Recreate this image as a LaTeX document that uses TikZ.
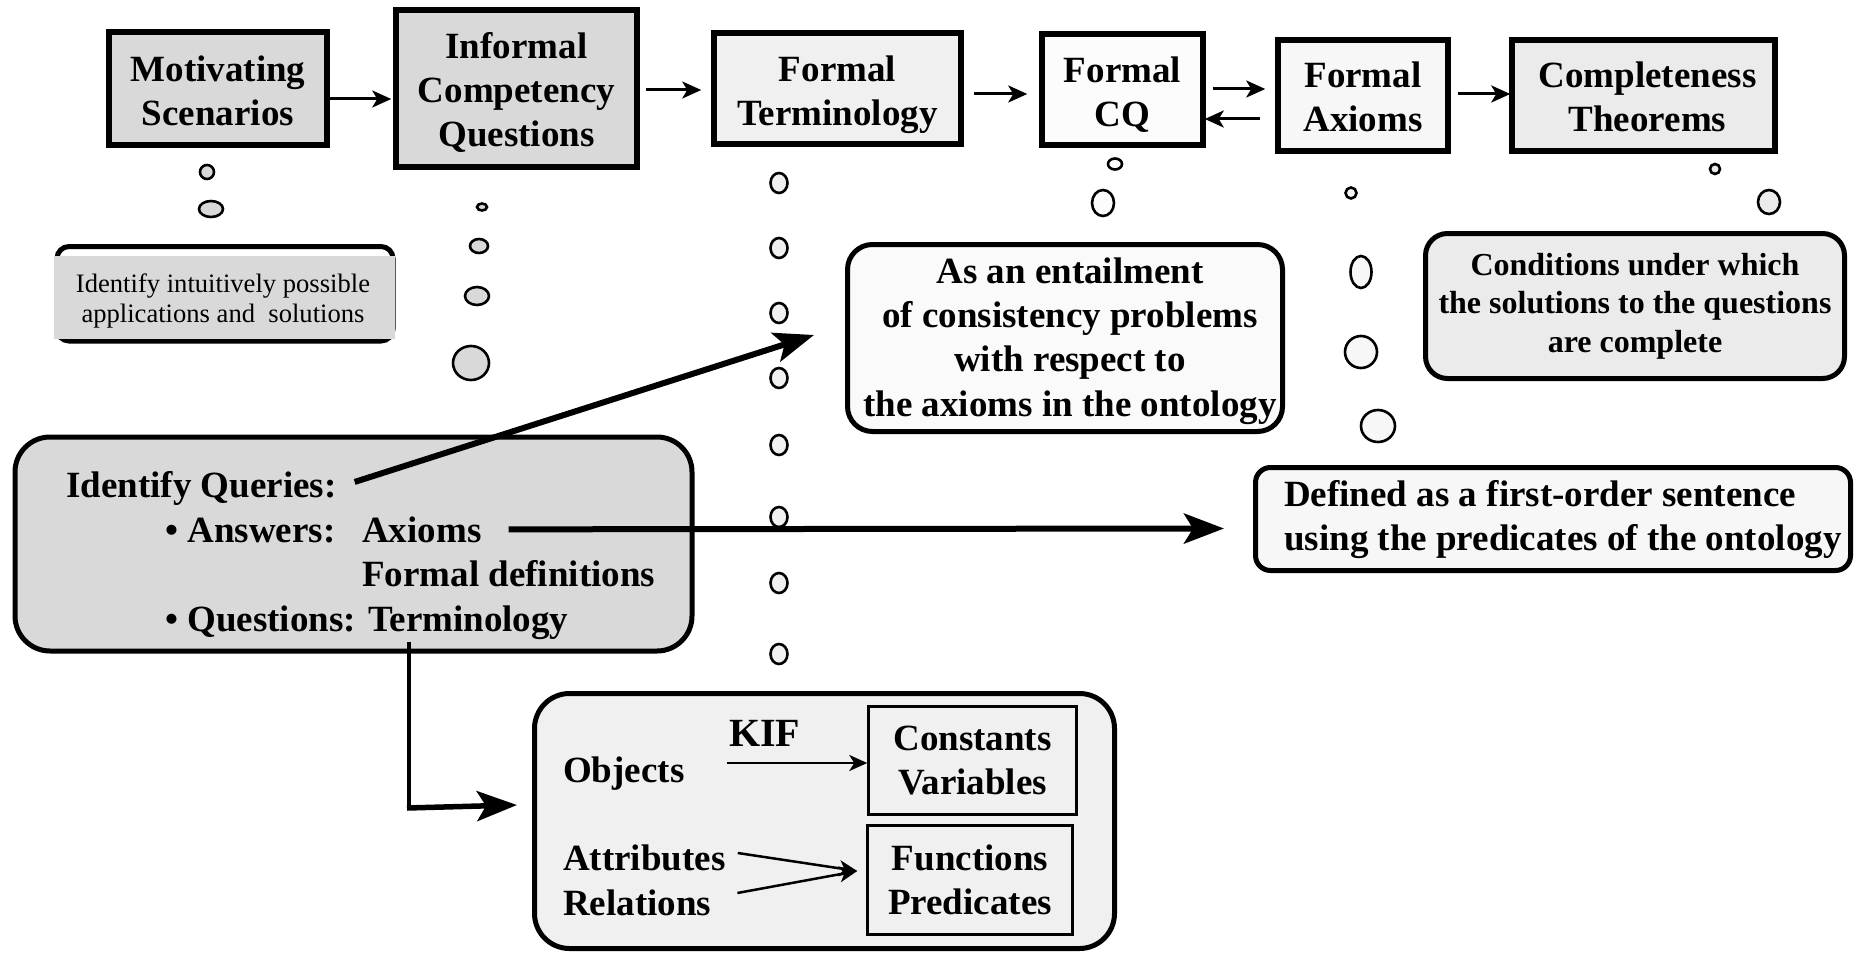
\documentclass[tikz,border=0pt]{standalone}
\usepackage{fontspec}
\setmainfont{Liberation Serif}
\usetikzlibrary{arrows.meta}
\definecolor{gA}{gray}{0.85}
\definecolor{gFT}{gray}{0.94}
\definecolor{gCQ}{gray}{0.99}
\definecolor{gFA}{gray}{0.97}
\definecolor{gCT}{gray}{0.92}
\definecolor{gENT}{gray}{0.98}
\begin{document}
\begin{tikzpicture}[x=1pt,y=-1pt,
  big/.style={font=\bfseries\fontsize{37}{44}\selectfont},
  topbox/.style={draw, line width=5.5pt, rectangle, inner sep=0pt},
  toptext/.style={big, align=center, inner sep=0pt},
  callout/.style={draw, line width=5pt, rectangle, inner sep=0pt},
  inbox/.style={draw, line width=2.5pt, rectangle, inner sep=0pt, align=center, font=\bfseries\fontsize{37}{43.5}\selectfont},
  txt/.style={big, anchor=base west, inner sep=0pt},
  toparrow/.style={line width=3pt, -{Stealth[length=19pt,width=17pt,inset=5pt]}},
  thinarrow/.style={line width=2.5pt, -{Stealth[length=18pt,width=16pt,inset=5pt]}},
  bigarrow/.style={line width=6pt, -{Stealth[length=40pt,width=30pt,inset=9pt]}},
  bubble/.style={draw, line width=2.6pt}
]
\useasboundingbox (0,0) rectangle (1863,955);

% ---------- top row ----------
\node[topbox, fill=gA, minimum width=218pt, minimum height=113pt] (MS) at (218,88.5) {};
\node[topbox, fill=gA, minimum width=241pt, minimum height=157pt] (ICQ) at (516.5,88.5) {};
\node[topbox, fill=gFT, minimum width=247pt, minimum height=111pt] (FT) at (837.5,88.5) {};
\node[topbox, fill=gCQ, minimum width=161pt, minimum height=111pt] (FCQ) at (1122.5,89.5) {};
\node[topbox, fill=gFA, minimum width=170pt, minimum height=111pt] (FA) at (1363,95.5) {};
\node[topbox, fill=gCT, minimum width=263pt, minimum height=111pt] (CT) at (1643.5,95.5) {};

\node[toptext] (MSt) at ([yshift=-2pt]MS.center) {Motivating\\Scenarios};
\node[toptext] (ICQt) at ([yshift=-4pt]ICQ.center) {Informal\\Competency\\Questions};
\node[toptext] (FTt) at ([yshift=-6pt]FT.center) {Formal\\Terminology};
\node[toptext] (FCQt) at ([yshift=-5pt]FCQ.center) {Formal\\CQ};
\node[toptext] (FAt) at ([yshift=-1pt]FA.center) {Formal\\Axioms};
\node[toptext] (CTt) at ([shift={(4,1)}]CT.center) {Completeness\\Theorems};

\draw[toparrow, shorten >=2pt] ([yshift=-10.5pt]MS.east) -- ([yshift=-10.5pt]ICQ.west);
\draw[toparrow, shorten <=6pt, shorten >=10pt] ([yshift=-1.5pt]ICQ.east) -- ([yshift=-1.5pt]FT.west);
\draw[toparrow, shorten <=10pt, shorten >=12pt] ([yshift=-5.5pt]FT.east) -- ([yshift=-4.5pt]FCQ.west);
\draw[toparrow, shorten <=7pt, shorten >=10pt] ([yshift=0.5pt]FCQ.east) -- ([yshift=6.5pt]FA.west);
\draw[toparrow, shorten <=15pt, shorten >=-1pt] ([yshift=-23.5pt]FA.west) -- ([yshift=-29.5pt]FCQ.east);
\draw[toparrow, shorten <=7pt, shorten >=-1pt] ([yshift=1.5pt]FA.east) -- ([yshift=1.5pt]CT.west);

% ---------- thought bubbles ----------
\draw[bubble, fill=gA] (207,172) ellipse [x radius=7pt, y radius=7pt];
\draw[bubble, fill=gA] (211,209) ellipse [x radius=12pt, y radius=8pt];

\draw[bubble, fill=gA] (482,207) ellipse [x radius=5pt, y radius=3.5pt];
\draw[bubble, fill=gA] (479,246) ellipse [x radius=9pt, y radius=7pt];
\draw[bubble, fill=gA] (477,296) ellipse [x radius=12pt, y radius=9pt];
\draw[bubble, fill=gA] (471,363) ellipse [x radius=18pt, y radius=17pt];

\foreach \yy in {183,248,313,378,445,517,583,654}
  \draw[bubble, fill=gFT] (779,\yy) ellipse [x radius=8.5pt, y radius=10pt];

\draw[bubble, fill=gCQ] (1115,164) ellipse [x radius=7pt, y radius=5.5pt];
\draw[bubble, fill=gCQ] (1103,203) ellipse [x radius=11pt, y radius=13pt];

\draw[bubble, fill=gFA] (1351,193) ellipse [x radius=5.5pt, y radius=5.5pt];
\draw[bubble, fill=gFA] (1361,272) ellipse [x radius=10.5pt, y radius=16pt];
\draw[bubble, fill=gFA] (1361,352) ellipse [x radius=16pt, y radius=16pt];
\draw[bubble, fill=gFA] (1378,426) ellipse [x radius=17pt, y radius=16pt];

\draw[bubble, fill=gCT] (1715,169) ellipse [x radius=5pt, y radius=5pt];
\draw[bubble, fill=gCT] (1769,202) ellipse [x radius=11pt, y radius=12pt];

% ---------- intuitive applications callout ----------
\draw[line width=5pt, rounded corners=12pt] (57,246.5) rectangle (393,341);
\fill[gA] (54,256) rectangle (395,339);
\node[font=\fontsize{26.6}{30}\selectfont, align=center, inner sep=0pt] (IIP) at (223,301) {Identify intuitively possible\\applications and\ \ solutions};

% ---------- entailment callout ----------
\node[callout, fill=gENT, rounded corners=25pt, minimum width=435pt, minimum height=187pt] (ENT) at (1065,338) {};
\node[align=center, inner sep=0pt, font=\bfseries\fontsize{37}{44.3}\selectfont] (ENTt) at ([shift={(5,3)}]ENT.center) {As an entailment\\of consistency problems\\with respect to\\the axioms in the ontology};

% ---------- conditions callout ----------
\node[callout, fill=gCT, rounded corners=22pt, minimum width=419pt, minimum height=145pt, align=center, font=\bfseries\fontsize{32}{38.5}\selectfont] (COND) at (1635,306) {Conditions under which\\the solutions to the questions\\are complete};

% ---------- identify queries ----------
\node[callout, fill=gA, rounded corners=35pt, minimum width=677pt, minimum height=214pt] (IQ) at (353.5,544) {};
\node[txt] (iqhead) at (66,497) {Identify Queries:};
\node[txt] (ans) at (165,542) {\textbullet\ Answers:};
\node[txt] (axioms) at (362,542) {Axioms};
\node[txt] (fdef) at (362,586) {Formal definitions};
\node[txt] (quest) at (165,631) {\textbullet\ Questions: Terminology};

% ---------- defined callout ----------
\node[callout, fill=gFA, rounded corners=15pt, minimum width=595pt, minimum height=103pt] (DEF) at (1553,519) {};
\node[big, anchor=west, align=left, inner sep=0pt] (deftext) at (1284,520) {Defined as a first-order sentence\\using the predicates of the ontology};

% ---------- bottom KIF box ----------
\node[callout, fill=gFT, rounded corners=35pt, minimum width=580pt, minimum height=255pt] (BOT) at (824.5,821) {};
\node[inbox, minimum width=208pt, minimum height=108pt] (CV) at (972.5,760.5) {Constants\\Variables};
\node[inbox, minimum width=205pt, minimum height=109pt] (FP) at (970,880) {Functions\\Predicates};
\node[font=\bfseries\fontsize{40}{48}\selectfont, anchor=base west, inner sep=0pt] (KIF) at (729,746) {KIF};
\node[txt] (obj) at (563,782) {Objects};
\node[txt] (attr) at (563,870) {Attributes};
\node[txt] (rel) at (563,915) {Relations};

\draw[thinarrow] ([shift={(42,-19)}]obj.base east) -- ([yshift=-2.5pt]CV.west);
\draw[thinarrow] ([shift={(12,-17)}]attr.base east) -- ([shift={(-9,-9)}]FP.west);
\draw[thinarrow] ([shift={(26,-22)}]rel.base east) -- ([shift={(-9,-9)}]FP.west);

% ---------- big connectors ----------
\draw[bigarrow] ([shift={(18,-6)}]iqhead.east) -- ([shift={(-31,-3)}]ENT.west);
\draw[bigarrow] ([xshift=27pt]axioms.east) -- ([shift={(-29,9.5)}]DEF.west);

\coordinate (termfoot) at ([shift={(244,11)}]quest.base west);
\coordinate (termcorner) at ([shift={(244,177)}]quest.base west);
\coordinate (botin) at ([shift={(-15,-16)}]BOT.west);
\draw[line width=4pt] (termfoot) -- (termcorner);
\draw[bigarrow, line width=5.5pt] ([xshift=-2pt]termcorner) -- (botin);
\end{tikzpicture}
\end{document}
